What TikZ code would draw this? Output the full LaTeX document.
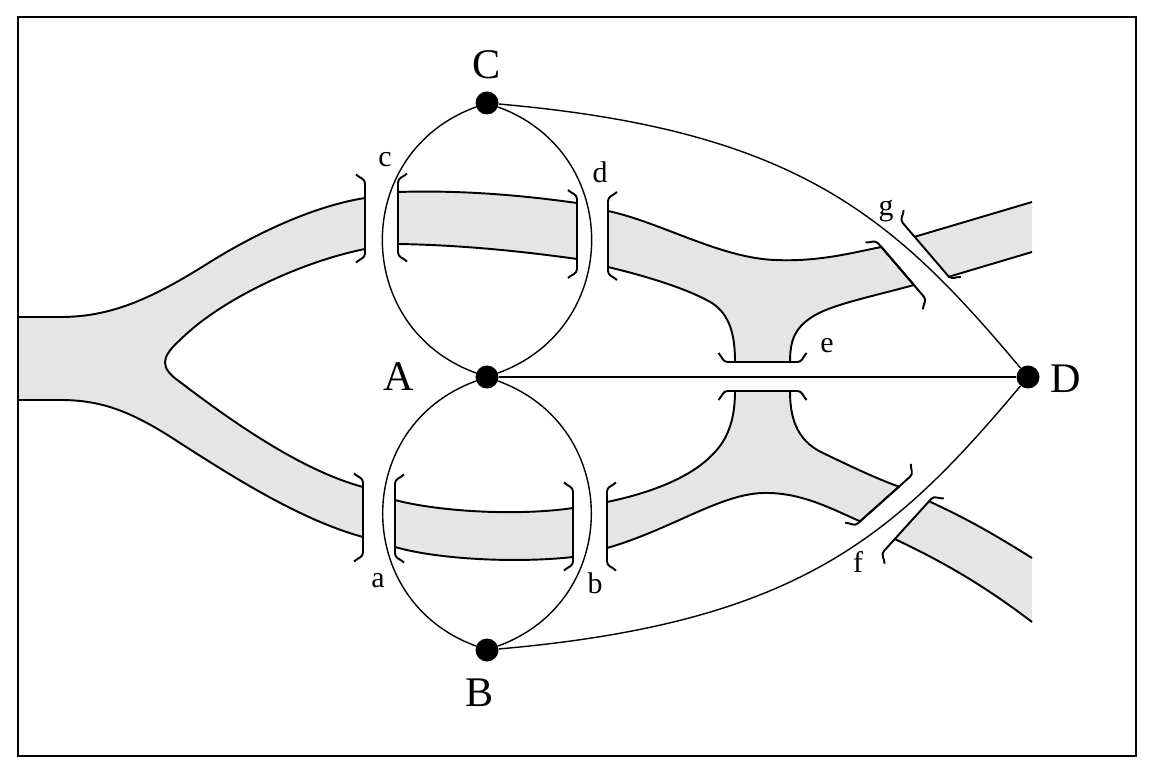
\documentclass[tikz,border=0pt]{standalone}
\usepackage{fontspec}
\setmainfont{Liberation Serif}
\usepackage{tikz}

\begin{document}
\begin{tikzpicture}[x=0.2mm, y=0.2mm,
river/.style={fill=gray!20},
bank/.style={line width=1.1pt},
edge/.style={line width=0.8pt},
dot/.style={circle, fill=black, inner sep=0pt, minimum size=4.6mm},
big/.style={font=\fontsize{24}{24}\selectfont, anchor=base, inner sep=0pt},
small/.style={font=\fontsize{17}{17}\selectfont, anchor=base, inner sep=0pt},
brk/.pic={\draw[bank] (-9,44) to[out=-45,in=90] (0,35) -- (0,-35) to[out=-90,in=45] (-9,-44);}]
\useasboundingbox (0,0) rectangle (1158,-778);

\filldraw[river, bank] (18,-317) -- (60,-317) .. controls (110,-317) and (150,-300) .. (210,-262)
  .. controls (265,-228) and (320,-205) .. (365,-198) -- (365,-249)
  .. controls (300,-262) and (220,-300) .. (180,-340) .. controls (160,-358) and (160,-368) .. (180,-382)
  .. controls (230,-420) and (300,-470) .. (363,-487) -- (363,-537)
  .. controls (300,-520) and (230,-475) .. (180,-443) .. controls (130,-410) and (100,-400) .. (60,-400)
  -- (18,-400) -- cycle;
\filldraw[river, bank] (398,-192) .. controls (460,-190) and (520,-195) .. (577,-203) -- (577,-259)
  .. controls (520,-251) and (460,-245) .. (398,-244) -- cycle;
\filldraw[river, bank] (395,-500) .. controls (440,-512) and (520,-516) .. (573,-508) -- (573,-557)
  .. controls (520,-563) and (440,-560) .. (395,-547) -- cycle;
\filldraw[river, bank] (608,-211) .. controls (660,-222) and (720,-258) .. (775,-260)
  .. controls (820,-262) and (855,-252) .. (881.5,-247) -- (914,-285)
  .. controls (870,-297) and (830,-305) .. (812,-317) .. controls (795,-328) and (790,-340) .. (790,-362)
  -- (735,-362) .. controls (735,-335) and (730,-315) .. (712,-303)
  .. controls (690,-290) and (650,-277) .. (608,-267) -- cycle;
\filldraw[river, bank] (607,-502) .. controls (650,-493) and (690,-478) .. (712,-455)
  .. controls (730,-438) and (735,-415) .. (735,-391) -- (790,-391)
  .. controls (790,-415) and (795,-440) .. (823,-453) .. controls (850,-466) and (875,-478) .. (899,-486.7)
  -- (860,-521.3) .. controls (830,-508) and (800,-492) .. (763,-493)
  .. controls (720,-494) and (670,-530) .. (607,-548) -- cycle;
\fill[river] (915,-236.7) -- (1032,-202) -- (1032,-252) -- (948,-277) -- cycle;
\draw[bank] (915,-236.7) -- (1032,-202);
\draw[bank] (948,-277) -- (1032,-252);
\fill[river] (929,-501.3) .. controls (970,-520) and (1000,-538) .. (1032,-558) -- (1032,-622)
  .. controls (990,-590) and (950,-565) .. (894.7,-539) -- cycle;
\draw[bank] (929,-501.3) .. controls (970,-520) and (1000,-538) .. (1032,-558);
\draw[bank] (894.7,-539) .. controls (950,-565) and (990,-590) .. (1032,-622);

\pic at (365,-218.5) {brk};
\pic[rotate=180] at (398,-217.5) {brk};
\pic at (577,-234) {brk};
\pic[rotate=180] at (608,-236) {brk};
\pic at (363,-517.5) {brk};
\pic[rotate=180] at (395,-518.5) {brk};
\pic at (573,-526.5) {brk};
\pic[rotate=180] at (607,-526.5) {brk};
\pic[rotate=-90] at (762.5,-362) {brk};
\pic[rotate=90] at (762.5,-391) {brk};
\pic[rotate=40.6] at (901,-270) {brk};
\pic[rotate=220.6] at (925.5,-249.5) {brk};
\pic[rotate=-48.2] at (884,-500) {brk};
\pic[rotate=137.8] at (907.5,-525) {brk};

\node[dot] (C) at (487,-103) {};
\node[dot] (A) at (487,-377) {};
\node[dot] (B) at (487,-650) {};
\node[dot] (D) at (1028,-377) {};

\draw[edge] (C) to[out=200, in=160, looseness=1.28] (A);
\draw[edge] (C) to[out=-20, in=20, looseness=1.28] (A);
\draw[edge] (A) to[out=200, in=160, looseness=1.28] (B);
\draw[edge] (A) to[out=-20, in=20, looseness=1.28] (B);
\draw[edge] (A) -- (D);
\draw[edge] (C) to[out=-5, in=130, out looseness=1.31, in looseness=0.87] (D);
\draw[edge] (B) to[out=5, in=-130, out looseness=1.31, in looseness=0.87] (D);

\node[big] (lC) at (487,-79) {C};
\node[big] (lA) at (399,-390) {A};
\node[big] (lB) at (480,-706) {B};
\node[big] (lD) at (1065.5,-392) {D};
\node[small] (la) at (378,-587) {a};
\node[small] (lb) at (595,-593) {b};
\node[small] (lc) at (385,-167) {c};
\node[small] (ld) at (600,-183) {d};
\node[small] (le) at (827,-353) {e};
\node[small] (lf) at (858,-572) {f};
\node[small] (lg) at (886,-216) {g};

\draw[line width=1.4pt] (18,-17) rectangle (1136,-756);
\end{tikzpicture}
\end{document}
